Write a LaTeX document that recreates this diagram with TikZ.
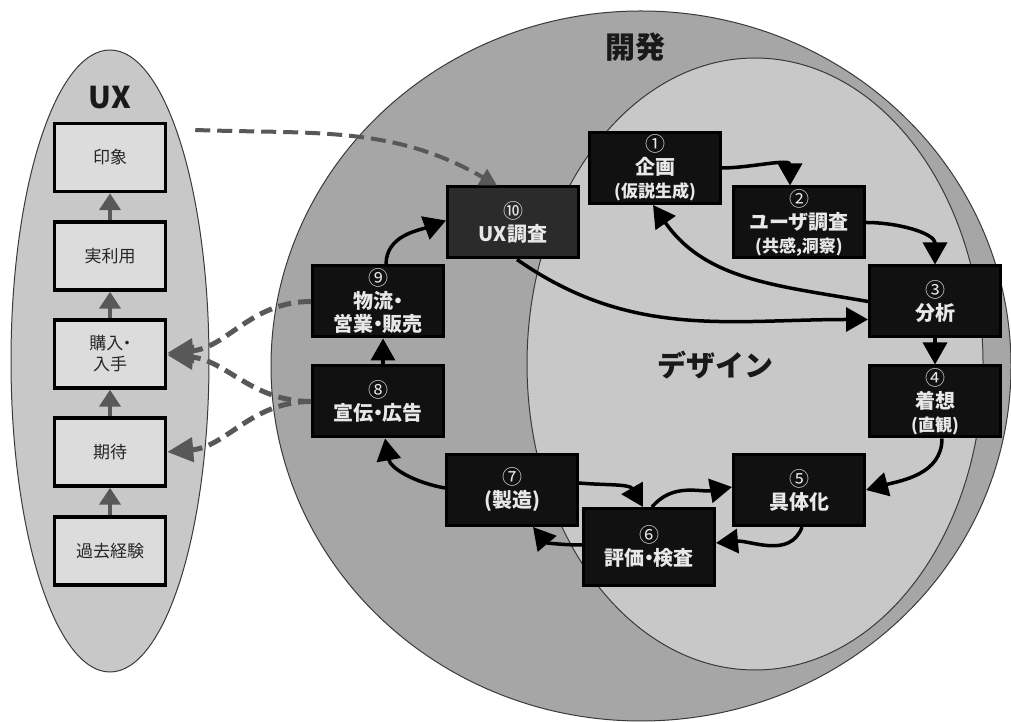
\documentclass[tikz,border=0pt]{standalone}
\usepackage{fontspec}
\setmainfont{Noto Sans CJK JP}
\usetikzlibrary{arrows.meta}
\definecolor{outerc}{HTML}{A6A6A6}
\definecolor{innerc}{HTML}{C8C8C8}
\definecolor{uxell}{HTML}{C8C8C8}
\definecolor{uxfill}{HTML}{DCDCDC}
\definecolor{edgec}{HTML}{3A3A3A}
\definecolor{boxfill}{HTML}{111111}
\definecolor{boxten}{HTML}{2B2B2B}
\definecolor{boxtext}{HTML}{E8E8E8}
\definecolor{arrgray}{HTML}{585858}
\newcommand\cnum[1]{{\fontsize{20}{23}\selectfont\mdseries #1}}
\newcommand\ptxt[1]{{\fontsize{17}{23}\selectfont #1}}
\newcommand\nkg{\kern-0.28em・\kern-0.28em}
\begin{document}
\begin{tikzpicture}[x=1pt,y=1pt,
  proc/.style={draw=black, line width=3pt, fill=boxfill, text=boxtext,
    minimum width=131pt, minimum height=71pt, inner sep=0pt, align=center,
    font=\fontsize{20}{23}\selectfont\bfseries},
  uxbox/.style={draw=black, line width=3.5pt, fill=uxfill, text=black!85,
    minimum width=111pt, minimum height=68pt, inner sep=0pt, align=center,
    font=\fontsize{17}{21}\selectfont},
  conn/.style={draw=black, line width=3.5pt, -{Triangle[length=22pt,width=24pt]}},
  uxarr/.style={draw=arrgray, line width=4pt, -{Triangle[length=17pt,width=21pt]}},
  dashA/.style={draw=arrgray, line width=5pt, dash pattern=on 13pt off 7pt,
    -{Triangle[length=26pt,width=24pt]}},
  dashB/.style={draw=arrgray, line width=4pt, dash pattern=on 15pt off 7pt,
    -{Triangle[length=17pt,width=18pt]}},
  title/.style={font=\fontsize{30}{34}\selectfont\bfseries, text=black!90}
]
\useasboundingbox (0,0) rectangle (1011,722);
% ellipses
\draw[fill=outerc, draw=edgec, line width=1pt] (641,356) ellipse [x radius=370pt, y radius=355pt];
\draw[fill=innerc, draw=edgec, line width=1pt] (755,358) ellipse [x radius=228pt, y radius=306pt];
\draw[fill=uxell, draw=edgec, line width=1pt] (110,361) ellipse [x radius=99pt, y radius=311pt];
% titles
\node[title] (tux) at (110,624) {UX};
\node[title] (tdev) at (635,675) {開発};
\node[title, font=\fontsize{29}{34}\selectfont\bfseries] (tdes) at (715,357) {デザイン};
% UX boxes
\node[uxbox] (ux1) at (110,564.5) {印象};
\node[uxbox] (ux2) at (110,466) {実利用};
\node[uxbox] (ux3) at (110,368) {購入\nkg\\入手};
\node[uxbox] (ux4) at (110,270) {期待};
\node[uxbox] (ux5) at (110,171) {過去経験};
\draw[uxarr] (ux2.north) -- (ux1.south);
\draw[uxarr] (ux3.north) -- (ux2.south);
\draw[uxarr] (ux4.north) -- (ux3.south);
\draw[uxarr] (ux5.north) -- (ux4.south);
% process boxes
\node[proc] (n1) at (655,554) {\cnum{①}\\企画\\\ptxt{(仮説生成)}};
\node[proc] (n2) at (799,499.5) {\cnum{②}\\ユーザ調査\\\ptxt{(共感,洞察)}};
\node[proc] (n3) at (935,420.5) {\cnum{③}\\分析};
\node[proc] (n4) at (935,320.5) {\cnum{④}\\着想\\\ptxt{(直観)}};
\node[proc] (n5) at (799,232) {\cnum{⑤}\\具体化};
\node[proc, minimum height=77pt] (n6) at (649,175) {\cnum{⑥}\\評価\nkg 検査};
\node[proc] (n7) at (512,232) {\cnum{⑦}\\(製造)};
\node[proc] (n8) at (378,320.5) {\cnum{⑧}\\宣伝\nkg 広告};
\node[proc] (n9) at (378,420.5) {\cnum{⑨}\\物流\nkg\\営業\nkg 販売};
\node[proc, fill=boxten] (n10) at (513,499.5) {\cnum{⑩}\\UX調査};
% solid connectors
\draw[conn] (n1.east) to[out=0,in=90] ([xshift=-9pt]n2.north);
\draw[conn] (n2.east) to[out=0,in=90] (n3.north);
\draw[conn] (n3.west) to[out=170,in=-55] ([xshift=-2pt]n1.south);
\draw[conn] ([xshift=4pt]n10.south) to[out=-35,in=180] ([yshift=-18pt]n3.west);
\draw[conn] (n3.south) -- (n4.north);
\draw[conn] ([xshift=7pt]n4.south) to[out=-90,in=15] (n5.east);
\draw[conn] ([xshift=3pt]n5.south) to[out=-110,in=5] ([yshift=4pt]n6.east);
\draw[conn] ([xshift=3pt]n6.north) to[out=50,in=190] ([yshift=3pt]n5.west);
\draw[conn] ([yshift=7pt]n7.east) to[out=-5,in=120] ([xshift=-6pt]n6.north);
\draw[conn] ([yshift=2pt]n6.west) to[out=180,in=-50] ([xshift=21pt]n7.south);
\draw[conn] ([yshift=2pt]n7.west) to[out=170,in=-80] ([xshift=7pt]n8.south);
\draw[conn] ([xshift=5pt]n8.north) -- ([xshift=5pt]n9.south);
\draw[conn] ([xshift=8pt]n9.north) to[out=90,in=200] ([yshift=2pt]n10.west);
% dashed connectors
\draw[dashB] ([shift={(28pt,27.5pt)}]ux1.east) to[out=-2,in=150] ([xshift=-16pt]n10.north);
\draw[dashA] (n9.west) to[out=180,in=5] ([yshift=1pt]ux3.east);
\draw[dashA] (n8.west) to[out=180,in=-5] ([yshift=-1pt]ux3.east);
\draw[dashA] (n8.west) to[out=180,in=5] (ux4.east);
\end{tikzpicture}
\end{document}
